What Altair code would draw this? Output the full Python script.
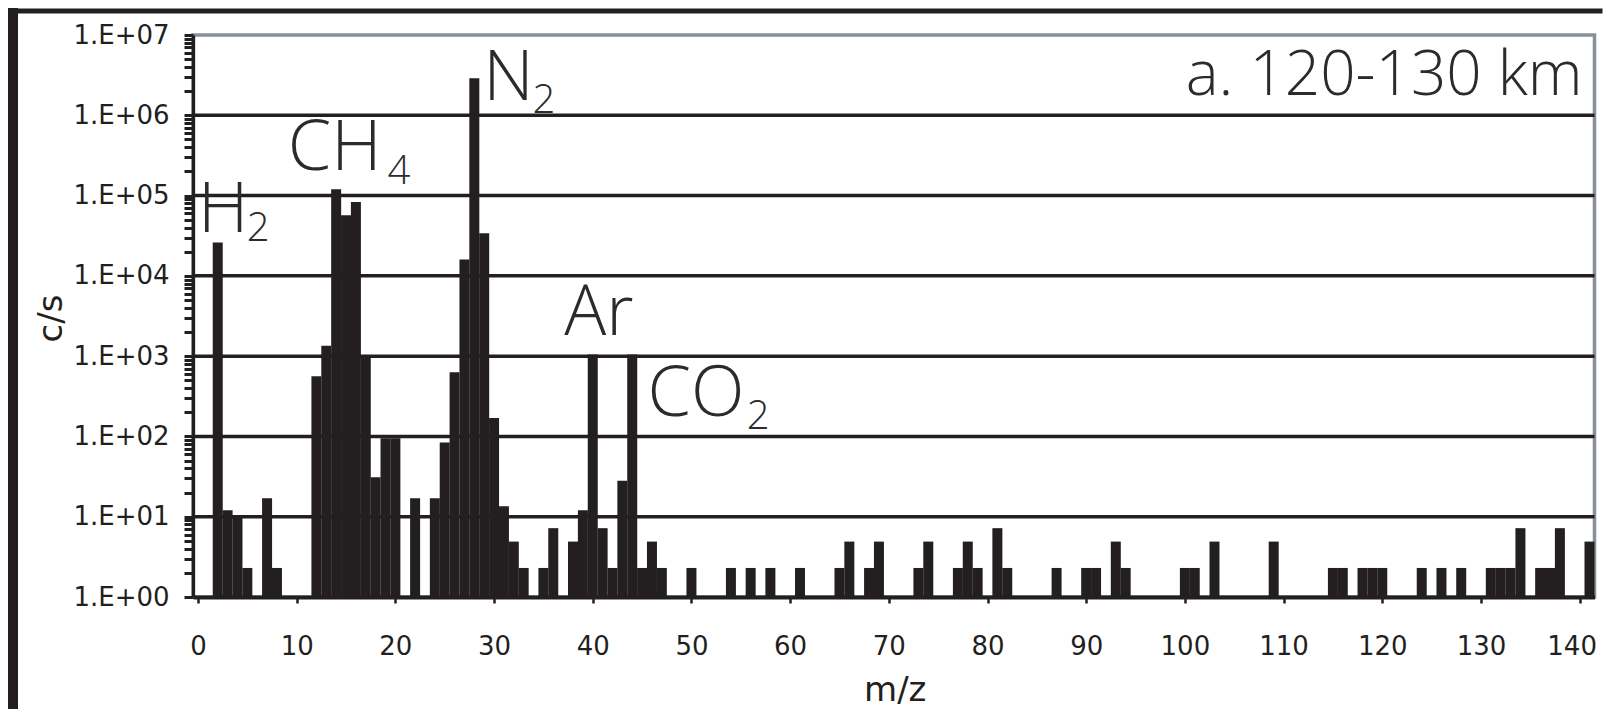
import altair as alt
import pandas as pd

INK = "#231f20"
TXT = "#2b2b2b"
BORDER = "#87909a"

# m/z channels with a measured signal, and their count rates (c/s)
mz = [2, 3, 4, 5, 7, 8, 12, 13, 14, 15, 16, 17, 18, 19, 20, 22, 24, 25, 26, 27,
      28, 29, 30, 31, 32, 33, 35, 36, 38, 39, 40, 41, 42, 43, 44, 45, 46, 47, 50,
      54, 56, 58, 61, 65, 66, 68, 69, 73, 74, 77, 78, 79, 81, 82, 87, 90, 91, 93,
      94, 100, 101, 103, 109, 115, 116, 118, 119, 120, 124, 126, 128, 131, 132,
      133, 134, 136, 137, 138, 141]
cps = [26000, 12, 10.5, 2.3, 17, 2.3, 560, 1350, 120000, 57000, 83000, 1000, 31,
       95, 95, 17, 17, 84, 630, 16000, 2900000, 34000, 170, 13.5, 4.9, 2.3, 2.3,
       7.2, 4.9, 12, 1050, 7.2, 2.3, 28, 1050, 2.3, 4.9, 2.3, 2.3,
       2.3, 2.3, 2.3, 2.3, 2.3, 4.9, 2.3, 4.9, 2.3, 4.9, 2.3, 4.9, 2.3, 7.2, 2.3,
       2.3, 2.3, 2.3, 4.9, 2.3, 2.3, 2.3, 4.9, 4.9, 2.3, 2.3, 2.3, 2.3, 2.3, 2.3,
       2.3, 2.3, 2.3, 2.3, 2.3, 7.2, 2.3, 2.3, 7.2, 4.9]

# axis ticks
x_ticks = [0, 10, 20, 30, 40, 50, 60, 70, 80, 90, 100, 110, 120, 130, 140]
y_major = [1, 10, 100, 1000, 10000, 100000, 1000000, 10000000]
y_ticks = [m * d for d in y_major[:-1] for m in range(1, 10)] + [y_major[-1]]
grid_vals = [10, 100, 1000, 10000, 100000, 1000000]

# species labels (main text + subscript), anchored in data coordinates
species = ["H", "CH", "N", "Ar", "CO"]
species_mz = [0.0, 9.1, 28.9, 37.1, 45.55]
species_cps = [35500, 207000, 1540000, 1810, 178]
subs = ["2", "4", "2", "2"]
subs_mz = [4.95, 19.2, 33.9, 55.6]
subs_cps = [27000, 140000, 1070000, 124]
panel_title = ["a. 120-130 km"]
panel_mz = [140.3]
panel_cps = [1770000]

W, H = 1401.5, 562

xscale = alt.Scale(domain=[0, 141], nice=False, zero=False)
yscale = alt.Scale(type="log", domain=[1, 10000000], nice=False)

x_axis = alt.Axis(
    values=x_ticks, title="m/z", grid=False,
    domainColor=INK, domainWidth=4, tickColor=INK, tickWidth=2.5, tickSize=6,
    labelFont="DejaVu Sans", labelFontSize=26, labelColor=INK, labelPadding=30,
    labelFlush=False, labelOverlap=False,
    labelOffset={"condition": {"test": "datum.value == 140", "value": -8}, "value": 0},
    titleFont="DejaVu Sans", titleFontSize=34, titleFontWeight="normal",
    titleColor=INK, titleX=W / 2 + 1, titleY=103, titleAlign="center",
    titleBaseline="alphabetic",
)
label_expr = ("abs(log(datum.value)/LN10 - round(log(datum.value)/LN10)) < 0.001"
              " ? '1.E+0' + round(log(datum.value)/LN10) : ''")
y_axis = alt.Axis(
    values=y_ticks, title="c/s", grid=False, labelExpr=label_expr,
    domainColor=INK, domainWidth=3.3, tickColor=INK, tickWidth=3, tickSize=9,
    labelFont="DejaVu Sans", labelFontSize=26, labelColor=INK, labelPadding=15,
    labelFlush=False, labelOverlap=False,
    titleFont="DejaVu Sans", titleFontSize=34, titleFontWeight="normal",
    titleColor=INK, titleX=-132, titleY=H / 2 + 2, titleAngle=270,
    titleAlign="center", titleBaseline="alphabetic",
)


def X(field="mz"):
    return alt.X(f"{field}:Q", scale=xscale, axis=x_axis)


def Y(field="cps"):
    return alt.Y(f"{field}:Q", scale=yscale, axis=y_axis)


bars_df = pd.DataFrame({"mz": mz, "cps": cps})
grid_df = pd.DataFrame({"cps": grid_vals})
sp_df = pd.DataFrame({"label": species, "mz": species_mz, "cps": species_cps})
sub_df = pd.DataFrame({"label": subs, "mz": subs_mz, "cps": subs_cps})
ttl_df = pd.DataFrame({"label": panel_title, "mz": panel_mz, "cps": panel_cps})
one = pd.DataFrame({"k": [0]})

grid = alt.Chart(grid_df).mark_rule(color=INK, strokeWidth=3.5).encode(y=Y())

bars = alt.Chart(bars_df).mark_bar(color=INK, size=10, clip=False).encode(
    x=X(), y=Y(), y2=alt.datum(1)
)

sp_text = alt.Chart(sp_df).mark_text(
    align="left", baseline="alphabetic", font="Open Sans", fontSize=70,
    fontWeight=300, color=TXT
).encode(x=X(), y=Y(), text="label:N")

sub_text = alt.Chart(sub_df).mark_text(
    align="left", baseline="alphabetic", font="Open Sans", fontSize=40,
    fontWeight=300, color=TXT
).encode(x=X(), y=Y(), text="label:N")

ttl_text = alt.Chart(ttl_df).mark_text(
    align="right", baseline="alphabetic", font="Open Sans", fontSize=62,
    fontWeight=300, color=TXT
).encode(x=X(), y=Y(), text="label:N")

# outer figure frame (decoration)
frame_left = alt.Chart(one).mark_rule(color=INK, strokeWidth=10).encode(
    x=alt.value(-180), y=alt.value(-27), y2=alt.value(676)
)
frame_top = alt.Chart(one).mark_rule(color=INK, strokeWidth=5).encode(
    x=alt.value(-185), x2=alt.value(W + 8), y=alt.value(-24)
)

chart = (
    alt.layer(grid, bars, sp_text, sub_text, ttl_text, frame_left, frame_top)
    .properties(
        width=W, height=H,
        autosize=alt.AutoSizeParams(type="none"),
        padding={"left": 185, "top": 27, "right": 8, "bottom": 112},
        background="white",
    )
    .configure_view(stroke=BORDER, strokeWidth=3.5)
)

chart.save("out.html", embed_options={"renderer": "svg", "actions": False})
